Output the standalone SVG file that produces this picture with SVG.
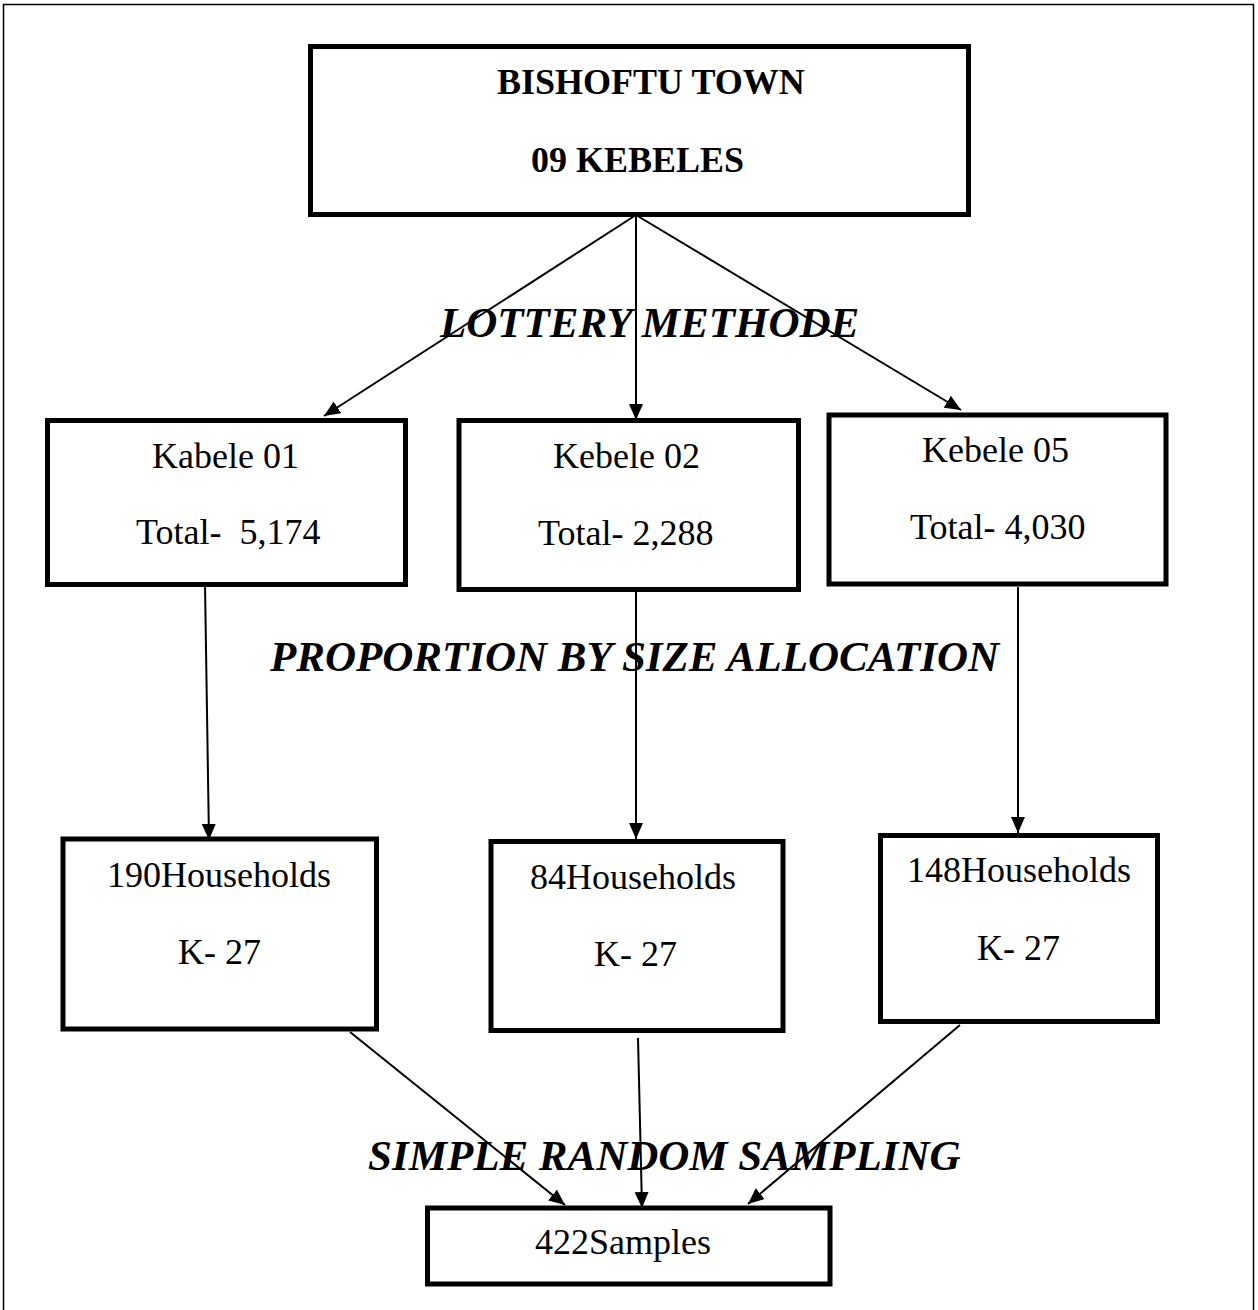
<svg xmlns="http://www.w3.org/2000/svg" width="1258" height="1310" viewBox="0 0 1258 1310">
<style>
.box{fill:#fff;stroke:#000;stroke-width:5}
.t{font-family:"Liberation Serif","Times New Roman",serif;font-size:36px;fill:#000;white-space:pre}
.b{font-weight:bold}
.lab{font-family:"Liberation Serif","Times New Roman",serif;font-size:43px;font-weight:bold;font-style:italic;fill:#000}
.c{stroke:#000;stroke-width:2;fill:none;marker-end:url(#ah)}
</style>
<defs>
<marker id="ah" markerUnits="userSpaceOnUse" markerWidth="18" markerHeight="16" refX="16" refY="7" orient="auto">
<path d="M0,0 L16,7 L0,14 z" fill="#000"/>
</marker>
</defs>
<rect x="0" y="0" width="1258" height="1310" fill="#fff"/>
<rect x="3.5" y="4.5" width="1250" height="1330" fill="none" stroke="#000" stroke-width="1.5"/>

<g id="connectors">
<line class="c" x1="636" y1="215" x2="324" y2="416"/>
<line class="c" x1="636" y1="215" x2="636" y2="420"/>
<line class="c" x1="636" y1="215" x2="961" y2="410"/>
<line class="c" x1="205" y1="584" x2="209" y2="840"/>
<line class="c" x1="636" y1="592" x2="636" y2="839"/>
<line class="c" x1="1018" y1="587" x2="1018" y2="833"/>
<line class="c" x1="350" y1="1032" x2="565" y2="1205"/>
<line class="c" x1="638" y1="1038" x2="642" y2="1208"/>
<line class="c" x1="960" y1="1025" x2="748" y2="1204"/>
</g>

<g id="labels">
<text class="lab" x="440" y="337">LOTTERY METHODE</text>
<text class="lab" x="270" y="671">PROPORTION BY SIZE ALLOCATION</text>
<text class="lab" x="368" y="1170">SIMPLE RANDOM SAMPLING</text>
</g>

<g id="town">
<rect class="box" x="310.5" y="46.5" width="658" height="168"/>
<text class="t b" x="497" y="94">BISHOFTU TOWN</text>
<text class="t b" x="531" y="172">09 KEBELES</text>
</g>

<g id="kebele01">
<rect class="box" x="47.5" y="420.5" width="358" height="164"/>
<text class="t" x="152" y="468">Kabele 01</text>
<text class="t" x="136" y="544" xml:space="preserve">Total-  5,174</text>
</g>

<g id="kebele02">
<rect class="box" x="459" y="420.5" width="339.5" height="169"/>
<text class="t" x="553" y="468">Kebele 02</text>
<text class="t" x="538" y="545">Total- 2,288</text>
</g>

<g id="kebele05">
<rect class="box" x="829" y="415" width="337" height="169"/>
<text class="t" x="922" y="462">Kebele 05</text>
<text class="t" x="910" y="539">Total- 4,030</text>
</g>

<g id="hh190">
<rect class="box" x="63" y="839" width="313.5" height="190"/>
<text class="t" x="107" y="887">190Households</text>
<text class="t" x="178" y="964">K- 27</text>
</g>

<g id="hh84">
<rect class="box" x="491" y="841.5" width="292" height="189"/>
<text class="t" x="530" y="889">84Households</text>
<text class="t" x="594" y="966">K- 27</text>
</g>

<g id="hh148">
<rect class="box" x="880.5" y="835.5" width="277" height="186"/>
<text class="t" x="907" y="882">148Households</text>
<text class="t" x="977" y="960">K- 27</text>
</g>

<g id="samples">
<rect class="box" x="427.5" y="1208" width="402.5" height="76"/>
<text class="t" x="535" y="1254">422Samples</text>
</g>
</svg>
